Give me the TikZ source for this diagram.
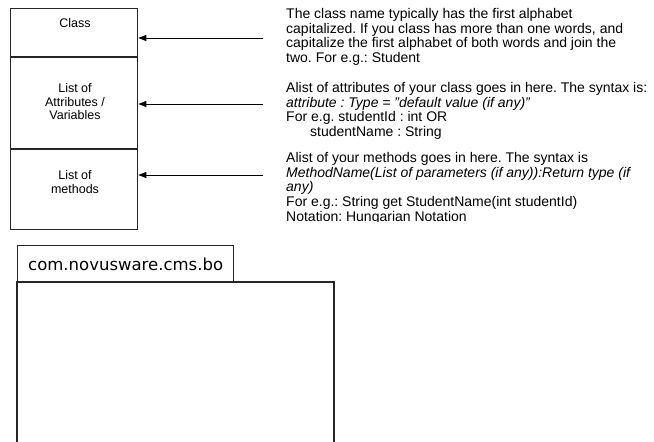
\documentclass[tikz,border=0pt]{standalone}
\usepackage{fontspec}
\setmainfont{Liberation Sans}
\newfontfamily\pkgfont{DejaVu Sans}
\usetikzlibrary{arrows.meta}
\frenchspacing
\begin{document}
\begin{tikzpicture}[x=1pt,y=-1pt,
  compart/.style={draw=black!85,line width=1.3pt,minimum width=127pt,inner sep=0pt,anchor=north west},
  boxlabel/.style={font=\fontsize{12.5}{13.5}\selectfont,align=center,inner sep=0pt},
  note/.style={font=\fontsize{14}{14.8}\selectfont,align=left,inner sep=0pt,anchor=north west},
  pointer/.style={draw=black,line width=0.8pt,-{Triangle[length=8pt,width=6pt]}},
  pkgline/.style={draw=black!85,line width=1.3pt}]
\useasboundingbox (0,0) rectangle (654,442);

% class symbol with its three compartments
\node[compart,minimum height=49pt] (cls) at (10,8) {};
\node[compart,minimum height=92pt] (attrs) at (10,57) {};
\node[compart,minimum height=80pt] (meths) at (10,149) {};
\draw[line width=2pt,black!85] (attrs.north west) -- (attrs.north east);
\draw[line width=2pt,black!85] (meths.north west) -- (meths.north east);

\node[boxlabel] (clslbl) at (75,23) {Class};
\node[boxlabel] (attrlbl) at (75,102) {List of\\Attributes /\\Variables};
\node[boxlabel] (methlbl) at (75,182) {List of\\methods};

% free ends of the pointers
\coordinate (p1) at (263,38);
\coordinate (p2) at (263,104);
\coordinate (p3) at (263,175);
\draw[pointer] (p1) -- (cls.east |- p1);
\draw[pointer] (p2) -- (attrs.east |- p2);
\draw[pointer] (p3) -- (meths.east |- p3);

% explanations
\begin{scope}
\clip (280,0) rectangle (654,221);
\node[note] (n1) at (286,8) {The class name typically has the first alphabet\\
capitalized. If you class has more than one words, and\\
capitalize the first alphabet of both words and join the\\
two. For e.g.: Student};
\node[note] (n2) at (286,82) {Alist of attributes of your class goes in here. The syntax is:\\
\textit{attribute : Type = \symbol{34}default value (if any)\symbol{34}}\\
For e.g. studentId : int OR\\
\hspace*{24pt}studentName : String};
\node[note] (n3) at (286,152) {Alist of your methods goes in here. The syntax is\\
\textit{MethodName(List of parameters (if any)):Return type (if}\\
\textit{any)}\\
For e.g.: String get StudentName(int studentId)\\
Notation: Hungarian Notation};
\end{scope}

% package symbol
\node[pkgline,minimum width=216pt,minimum height=37pt,inner sep=0pt,anchor=north west] (tab) at (17,245) {};
\node[font=\pkgfont\fontsize{16.5}{18}\selectfont,inner sep=0pt] (pkgname) at (tab.center) {com.novusware.cms.bo};
\coordinate (bodytl) at (17,282);
\coordinate (bodytr) at (334,282);
\coordinate (bodybl) at (17,450);
\coordinate (bodybr) at (334,450);
\draw[pkgline] (bodybl) -- (bodytl) -- (bodytr) -- (bodybr);
\end{tikzpicture}
\end{document}
